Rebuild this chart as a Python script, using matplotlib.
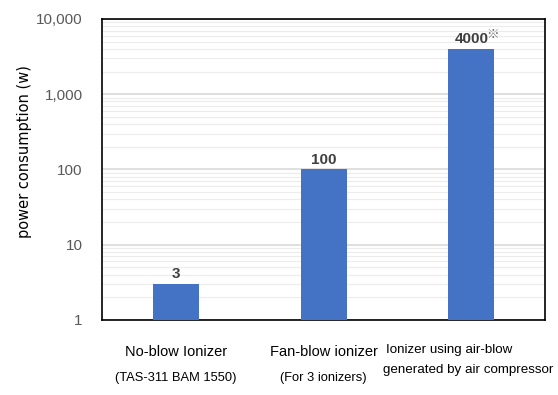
import matplotlib
matplotlib.use('Agg')
import matplotlib.pyplot as plt
from matplotlib.ticker import FixedLocator, LogLocator, NullFormatter

# data
categories = ['No-blow Ionizer', 'Fan-blow ionizer', 'Ionizer using air-blow']
subtitles = ['(TAS-311 BAM 1550)', '(For 3 ionizers)', 'generated by air compressor']
power = [3, 100, 4000]
value_labels = ['3', '100', '4000']
yticks = [1, 10, 100, 1000, 10000]
ytick_labels = ['1', '10', '100', '1,000', '10,000']

lab_font = 'Liberation Sans'

fig = plt.figure(figsize=(5.58, 3.95), dpi=100)
ax = fig.add_axes([0.183, 0.19, 0.794, 0.762])

x = list(range(len(power)))
ax.bar(x, power, width=0.31, color='#4472c4', zorder=3)
ax.set_yscale('log')
ax.set_ylim(1, 10000)
ax.set_xlim(-0.5, 2.5)

ax.yaxis.set_major_locator(FixedLocator(yticks))
ax.set_yticklabels(ytick_labels, fontsize=11, color='#595959', family=lab_font)
ax.yaxis.set_minor_locator(LogLocator(base=10, subs=range(2, 10)))
ax.yaxis.set_minor_formatter(NullFormatter())
ax.tick_params(axis='y', which='both', length=0, pad=14)
ax.grid(True, which='major', axis='y', color='#d9d9d9', lw=1.2, zorder=0)
ax.grid(True, which='minor', axis='y', color='#ececec', lw=0.8, zorder=0)

ax.set_xticks(x)
ax.set_xticklabels([])
ax.tick_params(axis='x', length=0)

for s in ax.spines.values():
    s.set_color('black')
    s.set_linewidth(1.2)

ax.set_ylabel('power consumption (w)', fontsize=10.5)
ax.yaxis.label.set_va('center')
ax.yaxis.set_label_coords(-0.176, 0.56)

# value labels on top of bars
for xi, v, lab in zip(x, power, value_labels):
    ax.annotate(lab, (xi, v), xytext=(0, 2), textcoords='offset points',
                ha='center', va='bottom', fontsize=11, fontweight='bold',
                color='#404040', family=lab_font)
ax.annotate('\u203b', (2, 4000), xytext=(11, 6), textcoords='offset points',
            ha='left', va='bottom', fontsize=9, color='#606060',
            family=['Noto Sans CJK JP', 'DejaVu Sans'])

# category labels
trans = ax.get_xaxis_transform()
for i in range(2):
    ax.text(x[i], -0.106, categories[i], transform=trans, ha='center', va='center',
            fontsize=10.5, family=lab_font)
    ax.text(x[i], -0.193, subtitles[i], transform=trans, ha='center', va='center',
            fontsize=9.3, family=lab_font)
ax.text(1.423, -0.10, categories[2], transform=trans, ha='left', va='center',
        fontsize=9.6, family=lab_font)
ax.text(1.40, -0.166, subtitles[2], transform=trans, ha='left', va='center',
        fontsize=9.6, family=lab_font)

fig.savefig('out.png', dpi=100)
